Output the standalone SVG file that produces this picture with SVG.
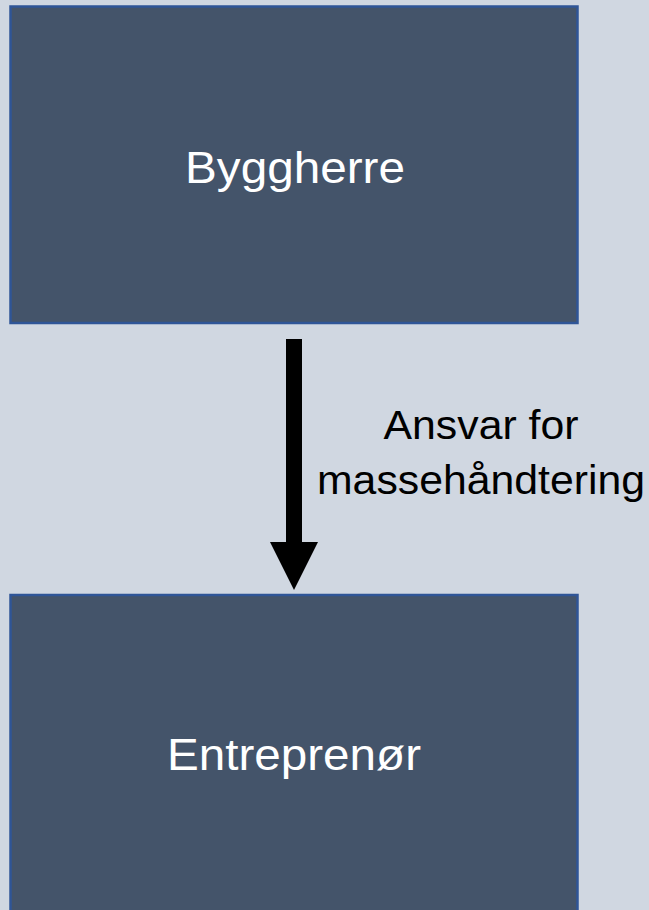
<svg xmlns="http://www.w3.org/2000/svg" width="649" height="910" viewBox="0 0 649 910">
<style>
.box{fill:#44546a;stroke:#2f5597;stroke-width:2.5}
.lbl{font-family:"Liberation Sans",Arial,sans-serif;font-size:45px;fill:#ffffff;text-anchor:middle}
.edge{font-family:"Liberation Sans",Arial,sans-serif;font-size:41px;fill:#000000;text-anchor:middle}
</style>
<rect width="649" height="910" fill="#d0d7e1"/>
<g id="byggherre">
<rect class="box" x="10.5" y="6.5" width="567" height="316.5"/>
<text class="lbl" x="295" y="183" textLength="220" lengthAdjust="spacingAndGlyphs">Byggherre</text>
</g>
<g id="entreprenor">
<rect class="box" x="10.5" y="595" width="567" height="330"/>
<text class="lbl" x="294" y="769.5" textLength="254" lengthAdjust="spacingAndGlyphs">Entreprenør</text>
</g>
<g id="connectors">
<rect x="286" y="339" width="16" height="204" fill="#000000"/>
<polygon points="270,542 318,542 294,590" fill="#000000"/>
<text class="edge" x="481" y="439" textLength="195" lengthAdjust="spacingAndGlyphs">Ansvar for</text>
<text class="edge" x="481" y="494" textLength="328" lengthAdjust="spacingAndGlyphs">massehåndtering</text>
</g>
</svg>
